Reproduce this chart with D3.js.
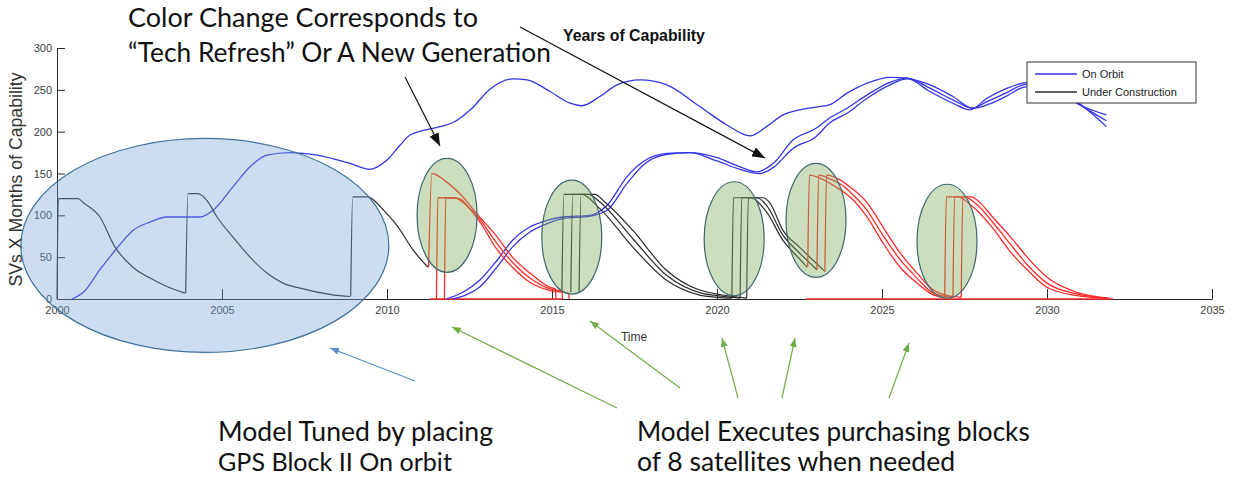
<!DOCTYPE html>
<html lang="en">
<head>
<meta charset="UTF-8">
<title>Years of Capability</title>
<script src="https://d3js.org/d3.v7.min.js"></script>
<style>
  body { margin: 0; background: #fff; font-family: "Liberation Sans", Arial, sans-serif; }
  svg { display: block; }
  .axis path, .axis line { stroke: #262626; }
  .axis text { fill: #404040; font-size: 11px; font-family: "Liberation Sans", Arial, sans-serif; }
  .callout { font-family: Lato, "Open Sans", sans-serif; fill: #111; }
  .orbit { fill: none; stroke: #3434e6; stroke-width: 1.3; }
  .build-k { fill: none; stroke: #2a2a2a; stroke-width: 1.2; }
  .build-r { fill: none; stroke: #ff2a2a; stroke-width: 1.3; }
</style>
</head>
<body>
<svg width="1234" height="478"></svg>
<script>
const xTicks = [2000, 2005, 2010, 2015, 2020, 2025, 2030, 2035];
const yTicks = [0, 50, 100, 150, 200, 250, 300];

// on orbit, three runs: [year, SVs x months]
const orbitA = [[2000.45,0],[2000.8,8],[2001.3,35],[2001.76,58],[2002.3,82],[2002.82,92],[2003.33,98],[2004.33,98],[2004.73,106],[2005.33,134],[2005.85,158],[2006.36,172],[2007.06,175],[2007.88,172],[2008.88,162],[2009.48,155],[2010.0,166],[2010.4,184],[2010.7,196],[2011.6,206],[2012.0,211],[2012.6,229],[2013.1,250],[2013.8,263],[2014.24,262],[2014.94,248],[2015.55,234],[2015.9,231],[2016.45,242],[2016.97,256],[2017.67,262],[2018.48,256],[2019.48,230],[2020.3,208],[2021.0,195],[2021.5,206],[2022.0,220],[2022.5,226],[2023.1,230],[2023.4,232],[2023.94,246],[2024.55,258],[2025.24,265],[2025.76,264],[2026.45,248],[2027.15,234],[2027.67,226],[2028.18,240],[2028.8,252],[2029.27,258],[2029.7,260],[2030.3,250],[2030.9,234],[2031.8,220]];
const orbitB = [[2011.8,0],[2012.3,8],[2012.8,22],[2013.33,46],[2013.8,70],[2014.33,86],[2014.85,94],[2015.33,98],[2016.15,100],[2016.67,112],[2017.27,146],[2017.76,164],[2018.48,174],[2019.18,175],[2020.0,169],[2020.7,158],[2021.2,152],[2021.7,162],[2022.3,190],[2023.0,204],[2023.4,216],[2023.94,228],[2024.55,244],[2025.24,259],[2025.76,264],[2026.45,252],[2027.15,238],[2027.75,228],[2028.18,236],[2028.8,247],[2029.27,256],[2029.8,258],[2030.4,248],[2031.0,232],[2031.8,213]];
const orbitC = [[2012.0,0],[2012.4,5],[2012.8,14],[2013.33,38],[2013.8,62],[2014.33,80],[2014.85,90],[2015.33,96],[2016.15,99],[2016.67,106],[2017.27,138],[2017.76,160],[2018.48,173],[2019.18,175],[2020.0,165],[2020.7,155],[2021.3,150],[2021.7,157],[2022.3,180],[2023.0,194],[2023.4,210],[2023.94,222],[2024.55,240],[2025.24,256],[2025.76,263],[2026.45,256],[2027.15,242],[2027.75,228],[2028.18,232],[2028.8,243],[2029.27,253],[2029.9,256],[2030.5,246],[2031.1,230],[2031.8,206]];

// under construction, one array per purchased block
const build2000 = [[2000.0,0],[2000.04,120],[2000.64,120],[2000.8,115],[2001.3,98],[2001.76,62],[2002.3,38],[2002.82,25],[2003.33,15],[2003.88,7]];
const build2004 = [[2003.9,7],[2003.97,126],[2004.27,126],[2004.54,118],[2004.85,98],[2005.33,74],[2005.85,50],[2006.36,31],[2006.85,19],[2007.36,13],[2008.36,5],[2008.88,3]];
const build2009 = [[2008.9,3],[2008.96,122],[2009.4,122],[2009.9,106],[2010.3,88],[2010.8,58],[2011.24,38]];
const build2011a = [[2011.26,38],[2011.36,150],[2011.8,140],[2012.3,122],[2012.7,103],[2013.3,76],[2013.8,50],[2014.33,31],[2014.94,14],[2015.1,12],[2015.12,0]];
const build2011b = [[2011.5,0],[2011.54,121],[2012.05,121],[2012.4,112],[2012.8,96],[2013.3,68],[2013.8,44],[2014.33,25],[2014.94,12],[2015.3,9],[2015.32,0]];
const build2011c = [[2011.74,0],[2011.78,121],[2012.2,120],[2012.5,108],[2012.85,90],[2013.3,61],[2013.8,38],[2014.33,20],[2014.94,10],[2015.5,7],[2015.52,0]];
const build2015a = [[2015.3,8],[2015.36,125],[2015.9,125],[2016.45,108],[2017.45,62],[2018.45,23],[2019.45,5],[2020.0,2],[2020.45,1]];
const build2015b = [[2015.57,8],[2015.63,125],[2016.1,125],[2016.45,116],[2017.45,72],[2018.45,29],[2019.45,8],[2020.0,4],[2020.7,1]];
const build2015c = [[2015.82,8],[2015.88,125],[2016.3,125],[2016.6,116],[2017.45,82],[2018.45,35],[2019.45,11],[2020.0,6],[2020.9,1]];
const build2020a = [[2020.45,1],[2020.5,121],[2021.0,121],[2021.5,104],[2022.0,70],[2022.5,48],[2022.73,38]];
const build2020b = [[2020.7,1],[2020.75,121],[2021.2,121],[2021.5,112],[2022.0,76],[2022.5,55],[2023.03,35]];
const build2020c = [[2020.9,1],[2020.95,121],[2021.4,121],[2021.6,115],[2022.0,82],[2022.5,62],[2023.27,33]];
const build2023a = [[2022.75,38],[2022.8,148],[2023.2,143],[2023.6,134],[2024.03,122],[2024.55,98],[2025.03,67],[2025.55,38],[2026.06,19],[2026.55,5],[2026.9,2]];
const build2023b = [[2023.03,35],[2023.08,148],[2023.45,143],[2023.8,136],[2024.03,128],[2024.55,106],[2025.03,76],[2025.55,47],[2026.06,25],[2026.55,7],[2027.15,2]];
const build2023c = [[2023.27,33],[2023.32,148],[2023.7,143],[2024.03,134],[2024.55,115],[2025.03,86],[2025.55,55],[2026.06,31],[2026.55,11],[2027.0,4],[2027.4,2]];
const build2027a = [[2026.9,2],[2026.95,122],[2027.3,122],[2027.7,112],[2028.35,85],[2028.9,56],[2029.4,35],[2030.0,14],[2030.9,4],[2031.8,1]];
const build2027b = [[2027.15,2],[2027.2,122],[2027.5,122],[2027.9,112],[2028.35,92],[2028.9,65],[2029.4,41],[2030.0,19],[2030.9,6],[2031.8,1]];
const build2027c = [[2027.4,2],[2027.45,122],[2027.7,122],[2028.0,114],[2028.35,98],[2028.9,74],[2029.4,50],[2030.0,26],[2030.9,8],[2031.9,1]];

// spans where the red generation sits at zero
const redIdle = [[2011.3, 2015.3], [2022.7, 2032.0]];

const blackBlocks = [build2000, build2004, build2009, build2015a, build2015b, build2015c, build2020a, build2020b, build2020c];
const redBlocks = [build2011a, build2011b, build2011c, build2023a, build2023b, build2023c, build2027a, build2027b, build2027c];

// highlighted zones: [year, value] centres
const tunedZone = [2004.48, 64];
const buyZones = [[2011.82, 100], [2015.6, 74], [2020.52, 72], [2023.0, 94], [2026.97, 69]];

const svg = d3.select("svg");
const x = d3.scaleLinear().domain([2000, 2035]).range([57, 1212]);
const y = d3.scaleLinear().domain([0, 300]).range([299, 48]);

svg.append("g")
  .attr("class", "axis")
  .attr("transform", `translate(0,${y(0)})`)
  .call(d3.axisBottom(x).tickValues(xTicks).tickFormat(d3.format("d"))
    .tickSizeInner(-10).tickSizeOuter(0).tickPadding(7));

svg.append("g")
  .attr("class", "axis")
  .attr("transform", `translate(${x(2000)},0)`)
  .call(d3.axisLeft(y).tickValues(yTicks).tickSizeInner(-8).tickSizeOuter(0).tickPadding(5));

// text sized to its measured width
function fitText(sel, width) {
  const w = sel.node().getComputedTextLength();
  const fs = parseFloat(sel.style("font-size"));
  sel.style("font-size", (fs * width / w).toFixed(2) + "px");
}

const yLabel = svg.append("text")
  .attr("transform", `translate(22,${(y(0) + y(300)) / 2 + 6}) rotate(-90)`)
  .attr("text-anchor", "middle")
  .style("font-size", "13px")
  .style("fill", "#333")
  .text("SVs X Months of Capability");
fitText(yLabel, 214);

svg.append("text")
  .attr("x", 634).attr("y", 341)
  .attr("text-anchor", "middle")
  .style("font-size", "12px")
  .style("fill", "#333")
  .text("Time");

const line = d3.line()
  .x(d => x(d[0]))
  .y(d => y(d[1]))
  .curve(d3.curveMonotoneX);

svg.selectAll(".idle")
  .data(redIdle)
  .enter().append("line")
  .attr("class", "build-r")
  .attr("x1", d => x(d[0])).attr("x2", d => x(d[1]))
  .attr("y1", y(0)).attr("y2", y(0));

svg.selectAll(".orbit")
  .data([orbitA, orbitB, orbitC])
  .enter().append("path")
  .attr("class", "orbit")
  .attr("d", line);

svg.selectAll(".build-k")
  .data(blackBlocks)
  .enter().append("path")
  .attr("class", "build-k")
  .attr("d", line);

svg.selectAll("path.build-r")
  .data(redBlocks)
  .enter().append("path")
  .attr("class", "build-r")
  .attr("d", line);

// highlight ellipses
svg.append("ellipse")
  .attr("cx", x(tunedZone[0])).attr("cy", y(tunedZone[1]))
  .attr("rx", 184).attr("ry", 107)
  .attr("fill", "#78a6db").attr("fill-opacity", 0.38)
  .attr("stroke", "#41719c").attr("stroke-width", 1.2);

svg.selectAll(".zone")
  .data(buyZones)
  .enter().append("ellipse")
  .attr("class", "zone")
  .attr("cx", d => x(d[0])).attr("cy", d => y(d[1]))
  .attr("rx", 30).attr("ry", 57)
  .attr("fill", "#82ac5c").attr("fill-opacity", 0.4)
  .attr("stroke", "#3f6670").attr("stroke-width", 1.2);

// legend
const legend = svg.append("g").attr("transform", "translate(1027,62)");
legend.append("rect")
  .attr("width", 169).attr("height", 41)
  .attr("fill", "#fff").attr("stroke", "#333").attr("stroke-width", 1);
[["On Orbit", "#3434e6"], ["Under Construction", "#2a2a2a"]].forEach((d, i) => {
  legend.append("line")
    .attr("x1", 8).attr("x2", 50).attr("y1", 12 + i * 18).attr("y2", 12 + i * 18)
    .attr("stroke", d[1]).attr("stroke-width", 1.3);
  legend.append("text")
    .attr("x", 55).attr("y", 16 + i * 18)
    .style("font-size", "11px").style("fill", "#222")
    .text(d[0]);
});

// arrows
const defs = svg.append("defs");
function marker(id, color, len, wid) {
  defs.append("marker")
    .attr("id", id)
    .attr("viewBox", `0 0 ${len} ${wid}`)
    .attr("refX", len).attr("refY", wid / 2)
    .attr("markerWidth", len).attr("markerHeight", wid)
    .attr("markerUnits", "userSpaceOnUse")
    .attr("orient", "auto")
    .append("path")
    .attr("d", `M0,0L${len},${wid / 2}L0,${wid}Z`)
    .attr("fill", color);
}
marker("head-k", "#111", 13, 10);
marker("head-b", "#5b8fc7", 9, 7);
marker("head-g", "#70ad47", 9, 7);

const arrows = [
  [405, 77, 440, 146, "#111", "head-k"],
  [520, 27, 765, 158, "#111", "head-k"],
  [415, 381, 330, 348, "#5b8fc7", "head-b"],
  [617, 408, 452, 327, "#70ad47", "head-g"],
  [680, 388, 590, 321, "#70ad47", "head-g"],
  [738, 398, 722, 338, "#70ad47", "head-g"],
  [782, 398, 795, 338, "#70ad47", "head-g"],
  [889, 398, 909, 343, "#70ad47", "head-g"]
];
svg.selectAll(".arrow")
  .data(arrows)
  .enter().append("line")
  .attr("class", "arrow")
  .attr("x1", d => d[0]).attr("y1", d => d[1])
  .attr("x2", d => d[2]).attr("y2", d => d[3])
  .attr("stroke", d => d[4]).attr("stroke-width", 1.2)
  .attr("marker-end", d => `url(#${d[5]})`);

const callouts = [
  ["Color Change Corresponds to", 128, 27, 350],
  ["\u201cTech Refresh\u201d Or A New Generation", 128, 62, 423],
  ["Model Tuned by placing", 218, 441, 275],
  ["GPS Block II On orbit", 218, 471, 234],
  ["Model Executes purchasing blocks", 637, 441, 393],
  ["of 8 satellites when needed", 637, 471, 318]
];
callouts.forEach(c => {
  const t = svg.append("text")
    .attr("class", "callout")
    .attr("x", c[1]).attr("y", c[2])
    .style("font-size", "24px")
    .text(c[0]);
  fitText(t, c[3]);
});

const title = svg.append("text")
  .attr("x", 563).attr("y", 41)
  .style("font-size", "13px")
  .style("font-weight", "bold")
  .style("fill", "#111")
  .text("Years of Capability");
fitText(title, 142);
</script>
</body>
</html>
